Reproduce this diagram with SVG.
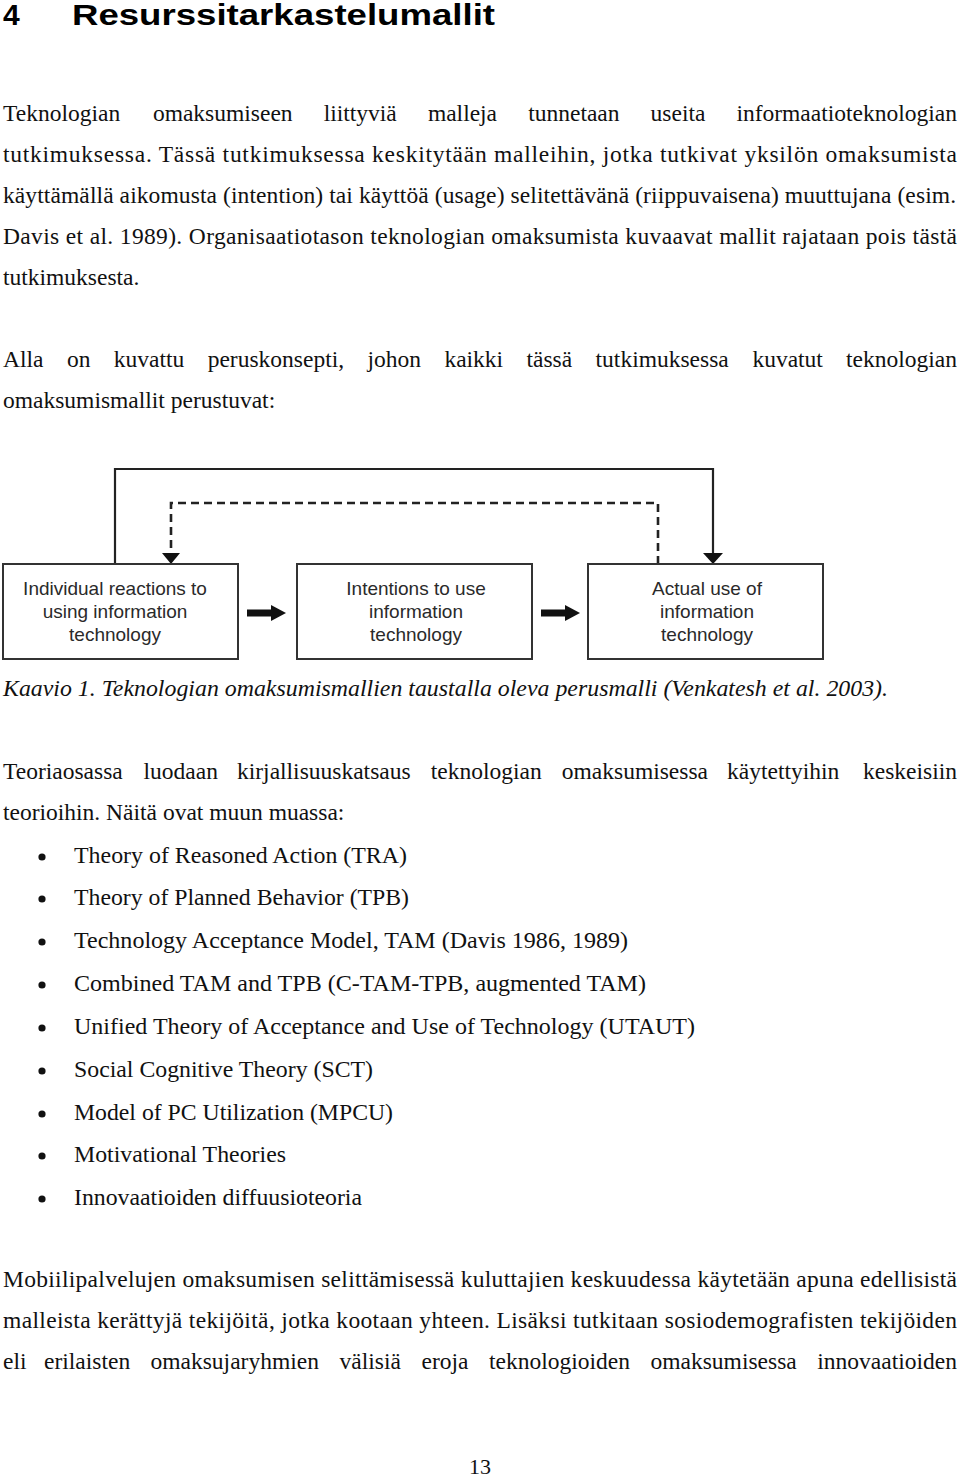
<svg xmlns="http://www.w3.org/2000/svg" width="960" height="1478" viewBox="0 0 960 1478">
<style>
.b{font-family:"Liberation Serif","Times New Roman",serif;font-size:23.5px;fill:#111}
.i{font-family:"Liberation Serif","Times New Roman",serif;font-size:23.5px;font-style:italic;fill:#111}
.h{font-family:"Liberation Sans",Arial,sans-serif;font-size:30px;font-weight:bold;fill:#000}
.n{font-family:"Liberation Sans",Arial,sans-serif;font-size:19px;fill:#2a2a2a;text-anchor:middle}
.box{fill:#fff;stroke:#333;stroke-width:2}
.ln{fill:none;stroke:#222;stroke-width:2.2}
.ds{fill:none;stroke:#222;stroke-width:2.6;stroke-dasharray:8 5}
</style>
<rect width="960" height="1478" fill="#fff"/>
<g id="heading">
<text class="h" x="3" y="25">4</text>
<text class="h" x="72" y="25" textLength="423" lengthAdjust="spacingAndGlyphs">Resurssitarkastelumallit</text>
</g>
<g id="para1">
<text class="b" y="121"><tspan x="3">Teknologian</tspan><tspan x="152.9">omaksumiseen</tspan><tspan x="323.7">liittyviä</tspan><tspan x="427.9">malleja</tspan><tspan x="528.2">tunnetaan</tspan><tspan x="650.6">useita</tspan><tspan x="736.4">informaatioteknologian</tspan></text>
<text class="b" x="3" y="162" textLength="954" lengthAdjust="spacing">tutkimuksessa. Tässä tutkimuksessa keskitytään malleihin, jotka tutkivat yksilön omaksumista</text>
<text class="b" x="3" y="203" textLength="953" lengthAdjust="spacing">käyttämällä aikomusta (intention) tai käyttöä (usage) selitettävänä (riippuvaisena) muuttujana (esim.</text>
<text class="b" x="3" y="244" textLength="954" lengthAdjust="spacing">Davis et al. 1989). Organisaatiotason teknologian omaksumista kuvaavat mallit rajataan pois tästä</text>
<text class="b" x="3" y="285">tutkimuksesta.</text>
</g>
<g id="para2">
<text class="b" y="367"><tspan x="3">Alla</tspan><tspan x="66.9">on</tspan><tspan x="113.8">kuvattu</tspan><tspan x="207.7">peruskonsepti,</tspan><tspan x="367.5">johon</tspan><tspan x="444.4">kaikki</tspan><tspan x="526.5">tässä</tspan><tspan x="595.6">tutkimuksessa</tspan><tspan x="752.4">kuvatut</tspan><tspan x="846">teknologian</tspan></text>
<text class="b" x="3" y="408">omaksumismallit perustuvat:</text>
</g>
<g id="connectors">
<polyline class="ln" points="115,564 115,469 713,469 713,554"/>
<polyline class="ds" points="658,564 658,503 171,503 171,554"/>
<path d="M162,553 L180,553 L171,564 z" fill="#111"/>
<path d="M703,553 L723,553 L713,564 z" fill="#111"/>
<path d="M247,609.5 L271,609.5 L271,605 L286,613 L271,621 L271,616.5 L247,616.5 z" fill="#111"/>
<path d="M541,609.5 L565,609.5 L565,605 L580,613 L565,621 L565,616.5 L541,616.5 z" fill="#111"/>
</g>
<g id="node-reactions">
<rect class="box" x="3" y="564" width="235" height="95"/>
<text class="n" x="115" y="595">Individual reactions to</text>
<text class="n" x="115" y="618">using information</text>
<text class="n" x="115" y="641">technology</text>
</g>
<g id="node-intentions">
<rect class="box" x="297" y="564" width="235" height="95"/>
<text class="n" x="416" y="595">Intentions to use</text>
<text class="n" x="416" y="618">information</text>
<text class="n" x="416" y="641">technology</text>
</g>
<g id="node-actual">
<rect class="box" x="588" y="564" width="235" height="95"/>
<text class="n" x="707" y="595">Actual use of</text>
<text class="n" x="707" y="618">information</text>
<text class="n" x="707" y="641">technology</text>
</g>
<g id="caption">
<text class="i" x="3" y="696" textLength="885" lengthAdjust="spacingAndGlyphs">Kaavio 1. Teknologian omaksumismallien taustalla oleva perusmalli (Venkatesh et al. 2003).</text>
</g>
<g id="para3">
<text class="b" y="779"><tspan x="3">Teoriaosassa</tspan><tspan x="143.5">luodaan</tspan><tspan x="237">kirjallisuuskatsaus</tspan><tspan x="430.7">teknologian</tspan><tspan x="561.8">omaksumisessa</tspan><tspan x="727.1">käytettyihin</tspan><tspan x="863">keskeisiin</tspan></text>
<text class="b" x="3" y="820">teorioihin. Näitä ovat muun muassa:</text>
</g>
<g id="bullets" fill="#111">
<circle cx="42" cy="857" r="3.6"/><text class="b" x="74" y="863" textLength="333" lengthAdjust="spacingAndGlyphs">Theory of Reasoned Action (TRA)</text>
<circle cx="42" cy="899" r="3.6"/><text class="b" x="74" y="905" textLength="335" lengthAdjust="spacingAndGlyphs">Theory of Planned Behavior (TPB)</text>
<circle cx="42" cy="942" r="3.6"/><text class="b" x="74" y="948" textLength="554" lengthAdjust="spacingAndGlyphs">Technology Acceptance Model, TAM (Davis 1986, 1989)</text>
<circle cx="42" cy="985" r="3.6"/><text class="b" x="74" y="991" textLength="572" lengthAdjust="spacingAndGlyphs">Combined TAM and TPB (C-TAM-TPB, augmented TAM)</text>
<circle cx="42" cy="1028" r="3.6"/><text class="b" x="74" y="1034" textLength="621" lengthAdjust="spacingAndGlyphs">Unified Theory of Acceptance and Use of Technology (UTAUT)</text>
<circle cx="42" cy="1071" r="3.6"/><text class="b" x="74" y="1077" textLength="299" lengthAdjust="spacingAndGlyphs">Social Cognitive Theory (SCT)</text>
<circle cx="42" cy="1114" r="3.6"/><text class="b" x="74" y="1120" textLength="319" lengthAdjust="spacingAndGlyphs">Model of PC Utilization (MPCU)</text>
<circle cx="42" cy="1156" r="3.6"/><text class="b" x="74" y="1162" textLength="212" lengthAdjust="spacingAndGlyphs">Motivational Theories</text>
<circle cx="42" cy="1199" r="3.6"/><text class="b" x="74" y="1205" textLength="288" lengthAdjust="spacingAndGlyphs">Innovaatioiden diffuusioteoria</text>
</g>
<g id="para4">
<text class="b" x="3" y="1287" textLength="954" lengthAdjust="spacing">Mobiilipalvelujen omaksumisen selittämisessä kuluttajien keskuudessa käytetään apuna edellisistä</text>
<text class="b" x="3" y="1328" textLength="954" lengthAdjust="spacing">malleista kerättyjä tekijöitä, jotka kootaan yhteen. Lisäksi tutkitaan sosiodemografisten tekijöiden</text>
<text class="b" y="1369"><tspan x="3">eli</tspan><tspan x="44">erilaisten</tspan><tspan x="150.5">omaksujaryhmien</tspan><tspan x="339.5">välisiä</tspan><tspan x="421.5">eroja</tspan><tspan x="489">teknologioiden</tspan><tspan x="650.5">omaksumisessa</tspan><tspan x="817.3">innovaatioiden</tspan></text>
</g>
<g id="page-number">
<text class="b" x="480" y="1474" text-anchor="middle" style="font-size:22px">13</text>
</g>
</svg>
